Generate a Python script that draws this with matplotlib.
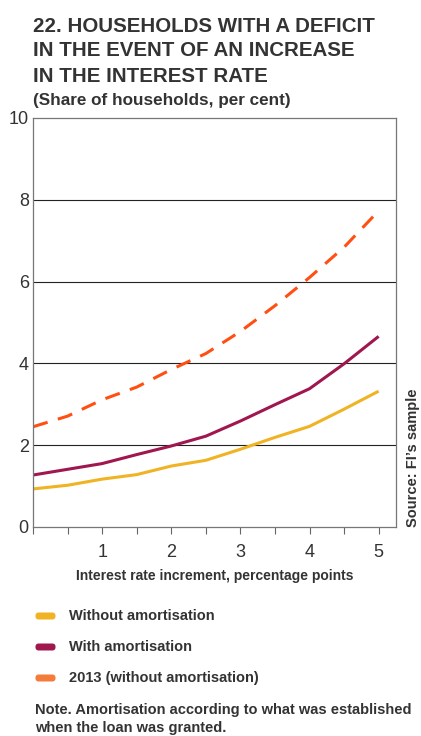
import numpy as np
import matplotlib.pyplot as plt
from matplotlib.patches import FancyBboxPatch

# data
increment = [0, 0.5, 1, 1.5, 2, 2.5, 3, 3.5, 4, 4.5, 5]
without_amort = [0.93, 1.02, 1.17, 1.28, 1.49, 1.63, 1.90, 2.19, 2.46, 2.88, 3.32]
with_amort = [1.27, 1.41, 1.55, 1.77, 1.98, 2.22, 2.59, 2.99, 3.38, 3.99, 4.66]
y2013 = [2.45, 2.71, 3.11, 3.42, 3.85, 4.24, 4.78, 5.41, 6.10, 6.84, 7.73]

series_labels = ["Without amortisation", "With amortisation", "2013 (without amortisation)"]
legend_colors = ["#f0b323", "#a0174f", "#f47b3a"]
yticks = [0, 2, 4, 6, 8, 10]
xticks = [1, 2, 3, 4, 5]

plt.rcParams["font.family"] = ["Liberation Sans", "DejaVu Sans"]
txt = "#333333"

fig = plt.figure(figsize=(4.21, 7.36), dpi=100)
ax = fig.add_axes([0.0784, 0.284, 0.862, 0.5557])

ax.plot(increment, without_amort, c="#f0b323", lw=2.2, solid_capstyle="butt")
ax.plot(increment, with_amort, c="#a0174f", lw=2.2, solid_capstyle="butt")
ax.plot(increment, y2013, c="#ff4f12", lw=2.2, dashes=(5, 3.5))

ax.set_xlim(0, 5.25)
ax.set_ylim(0, 10)
for g in [2, 4, 6, 8]:
    ax.axhline(g, c="#222222", lw=0.8, zorder=0)

ax.set_yticks(yticks)
ax.set_yticklabels([str(v) for v in yticks], fontsize=13, color=txt)
ax.tick_params(axis="y", length=0, pad=3)
ax.set_xticks(np.arange(0, 5.01, 0.5))
ax.set_xticklabels(["" if v % 1 or v == 0 else str(int(v)) for v in np.arange(0, 5.01, 0.5)],
                   fontsize=13, color=txt)
ax.tick_params(axis="x", length=5, direction="out", color="#666666", pad=7)
for s in ax.spines.values():
    s.set_color("#777777")
    s.set_linewidth(0.9)

ax.set_xlabel("Interest rate increment, percentage points", fontsize=10,
              fontweight="bold", color=txt, labelpad=6)

# title block
title_lines = ["22. HOUSEHOLDS WITH A DEFICIT", "IN THE EVENT OF AN INCREASE", "IN THE INTEREST RATE"]
for i, line in enumerate(title_lines):
    fig.text(33 / 421, 1 - (26 + i * 25) / 736, line, fontsize=14.8, fontweight="bold",
             color=txt, va="center", ha="left")
fig.text(33 / 421, 1 - 101 / 736, "(Share of households, per cent)", fontsize=12.3,
         fontweight="bold", color=txt, va="center", ha="left")

# source, rotated on the right
fig.text(413 / 421, 1 - 527 / 736, "Source: FI\u2019s sample", rotation=90, fontsize=10.5,
         fontweight="bold", color=txt, ha="center", va="bottom")

# legend
for i, (lab, col) in enumerate(zip(series_labels, legend_colors)):
    y = 1 - (616 + i * 31) / 736
    fig.patches.append(FancyBboxPatch((35 / 421, y - 3.5 / 736), 21 / 421, 7 / 736,
                                      boxstyle="round,pad=0,rounding_size=0.008",
                                      transform=fig.transFigure, fc=col, ec="none"))
    fig.text(69 / 421, y, lab, fontsize=10.5, fontweight="bold", color=txt,
             va="center", ha="left")

fig.text(35 / 421, 1 - 710 / 736, "Note. Amortisation according to what was established",
         fontsize=10.5, fontweight="bold", color=txt, va="center", ha="left")
fig.text(35 / 421, 1 - 728 / 736, "when the loan was granted.",
         fontsize=10.5, fontweight="bold", color=txt, va="center", ha="left")

fig.savefig("out.png", dpi=100)
